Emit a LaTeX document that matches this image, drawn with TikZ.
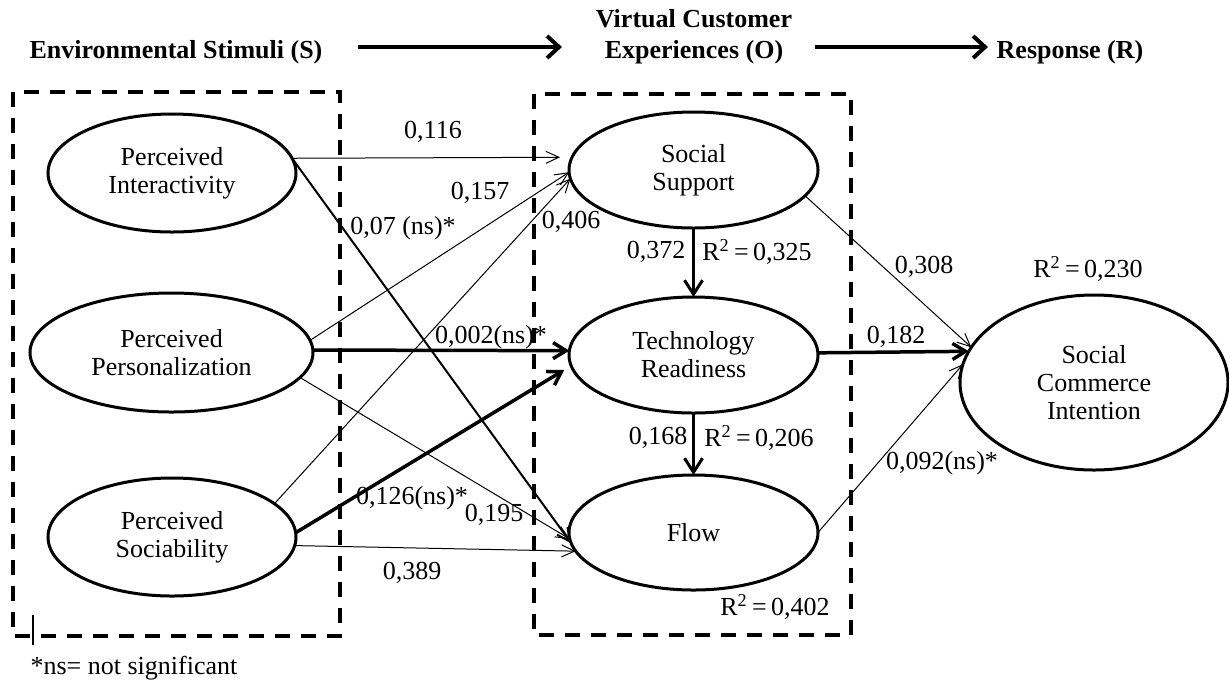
\documentclass[tikz,border=0pt]{standalone}
\usepackage{fontspec}
\setmainfont{Liberation Serif}
\usetikzlibrary{shapes.geometric,arrows.meta}
\begin{document}
\begin{tikzpicture}[x=0.5pt,y=-0.5pt,
  txt/.style={font=\fontsize{13}{14}\selectfont, inner sep=0pt, align=center},
  hdr/.style={font=\bfseries\fontsize{13}{15.5}\selectfont, inner sep=0pt, align=center},
  latent/.style={ellipse, draw, line width=1.5pt, align=center, inner sep=0pt, outer sep=0pt,
    font=\fontsize{13}{14}\selectfont},
  dbox/.style={draw, line width=2pt, dash pattern=on 7.5pt off 5.5pt},
  thinarr/.style={line width=0.5pt, -{Straight Barb[length=6.5pt,width=6pt,line width=0.5pt]}},
  medarr/.style={line width=1pt, -{Straight Barb[length=6.5pt,width=6.5pt,line width=1pt]}},
  thickarr/.style={line width=1.75pt, -{Straight Barb[length=6.5pt,width=8pt,line width=1.75pt]}},
  vertarr/.style={line width=1.5pt, -{Straight Barb[length=7pt,width=9pt,line width=1.5pt]}},
  hdrarr/.style={line width=2pt, -{Straight Barb[length=6pt,width=11pt,line width=2pt]}}
]
\useasboundingbox (0,0) rectangle (1229,681);

% dashed boxes
\draw[dbox] (13,92) rectangle (340,636);
\draw[dbox] (534,94) rectangle (851,635);
\draw[line width=0.75pt] (33,615) -- (33,645);

% headers
\node[hdr] (hS) at (176,52) {Environmental Stimuli (S)};
\node[hdr] (hO) at (694,37) {Virtual Customer\\Experiences (O)};
\node[hdr] (hR) at (1070,52) {Response (R)};
\coordinate (a1s) at (358,47);
\coordinate (a1e) at (562,47);
\coordinate (a2s) at (815,47);
\coordinate (a2e) at (988,47);
\draw[hdrarr] (a1s) -- (a1e);
\draw[hdrarr] (a2s) -- (a2e);

% latent variables
\node[latent, minimum width=124pt, minimum height=59pt] (PI) at (172,173) {Perceived\\Interactivity};
\node[latent, minimum width=141.5pt, minimum height=59.5pt] (PP) at (171.5,352.5) {Perceived\\Personalization};
\node[latent, minimum width=124pt, minimum height=59pt] (PS) at (172,537) {Perceived\\Sociability};
\node[latent, minimum width=124.5pt, minimum height=58pt] (SS) at (693.5,170) {Social\\Support};
\node[latent, minimum width=124.5pt, minimum height=58pt] (TR) at (693.5,355) {Technology\\Readiness};
\node[latent, minimum width=124.5pt, minimum height=57.5pt] (FL) at (693.5,532.5) {Flow};
\node[latent, minimum width=134pt, minimum height=87.5pt] (SCI) at (1094,382.5) {Social\\Commerce\\Intention};

% paths
\draw[thinarr, shorten >=6pt] (PI.7) -- (SS.174);
\draw[medarr] (PI.7) -- (FL.185);
\draw[thinarr] (PP.5) -- (SS.181);
\draw[thinarr] (PS.18) -- (SS.184);
\draw[thickarr] (PP.1) -- (TR.178);
\draw[thinarr] (PP.-11) -- (FL.183);
\draw[thickarr, shorten >=4pt] (PS.2) -- (TR.185);
\draw[thinarr] (PS.-4) -- (FL.189);
\draw[vertarr] (SS.south) -- (TR.north);
\draw[vertarr] (TR.south) -- (FL.north);
\draw[thinarr] (SS.-13) -- (SCI.164);
\draw[thickarr] (TR.1) -- (SCI.166);
\draw[thinarr] (FL.east) -- (SCI.172);

% labels
\node[txt] (l1) at (433,132) {0,116};
\node[txt] (l2) at (480,193) {0,157};
\node[txt] (l3) at (403,228) {0,07 (ns)*};
\node[txt] (l4) at (571,222) {0,406};
\node[txt] (l5) at (491,337) {0,002(ns)*};
\node[txt] (l6) at (412,498) {0,126(ns)*};
\node[txt] (l7) at (494,515) {0,195};
\node[txt] (l8) at (412,573) {0,389};
\node[txt] (l9) at (656,252) {0,372};
\node[txt] (r1) at (757,252) {R\textsuperscript{2}\,=\,0,325};
\node[txt] (l10) at (658,438) {0,168};
\node[txt] (r2) at (759,438) {R\textsuperscript{2}\,=\,0,206};
\node[txt] (r3) at (775,607) {R\textsuperscript{2}\,=\,0,402};
\node[txt] (l11) at (924,267) {0,308};
\node[txt] (r4) at (1088,269) {R\textsuperscript{2}\,=\,0,230};
\node[txt] (l12) at (896,337) {0,182};
\node[txt] (l13) at (942,463) {0,092(ns)*};
\node[txt] (note) at (134,668) {*ns= not significant};
\end{tikzpicture}
\end{document}
